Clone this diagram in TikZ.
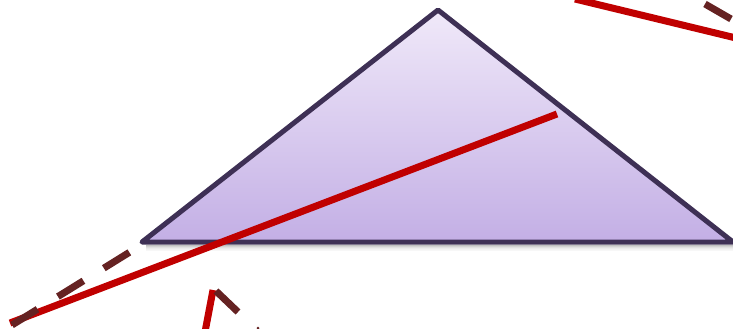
\documentclass[tikz,border=0pt]{standalone}
\usetikzlibrary{calc}
\definecolor{triTop}{HTML}{F0E9F9}
\definecolor{triBot}{HTML}{C3AFE5}
\definecolor{triEdge}{HTML}{3E3055}
\definecolor{redline}{HTML}{C00000}
\definecolor{brownline}{HTML}{652222}
\tikzset{
  redstroke/.style={draw=redline, line width=7pt},
  brownstroke/.style={draw=brownline, line width=7pt},
  browndashed/.style={draw=brownline, line width=7pt, dash pattern=on 30pt off 24pt},
}
\begin{document}
\begin{tikzpicture}[x=1pt,y=-1pt]
\useasboundingbox (0,0) rectangle (733,329);
% triangle vertices
\coordinate (A) at (142,242);
\coordinate (B) at (438,10);
\coordinate (C) at (733,242);
% soft shadow under base
\foreach \i/\o in {1/0.25,2/0.18,3/0.12,4/0.08,5/0.05,6/0.03}{
  \fill[black, opacity=\o] ($(A)+(4,\i+2)$) rectangle ($(C)+(0,\i+3)$);
}
\shade[top color=triTop, bottom color=triBot] (A) -- (B) -- (C) -- cycle;
\draw[triEdge, line width=5pt, line join=round] (A) -- (B) -- (C) -- cycle;
% main red line
\coordinate (r1) at (10,323);
\coordinate (r2) at (557,114);
\draw[redstroke] (r1) -- (r2);
% dashed brown left
\coordinate (d1) at (12,325);
\coordinate (d2) at (138,247);
\draw[browndashed] (d1) -- (d2);
% top right
\coordinate (t1) at (575,-1);
\coordinate (t2) at (736,38);
\draw[redstroke] (t1) -- (t2);
\coordinate (u1) at (705,4);
\coordinate (u2) at (731,19);
\draw[brownstroke] (u1) -- (u2);
% bottom
\coordinate (b1) at (213,290);
\coordinate (b2) at (205,332);
\draw[redstroke] (b1) -- (b2);
\coordinate (c1) at (216,291);
\coordinate (c2) at (238,312);
\draw[brownstroke] (c1) -- (c2);
\fill[brownline] (258,328) circle (1.5pt);
\end{tikzpicture}
\end{document}
